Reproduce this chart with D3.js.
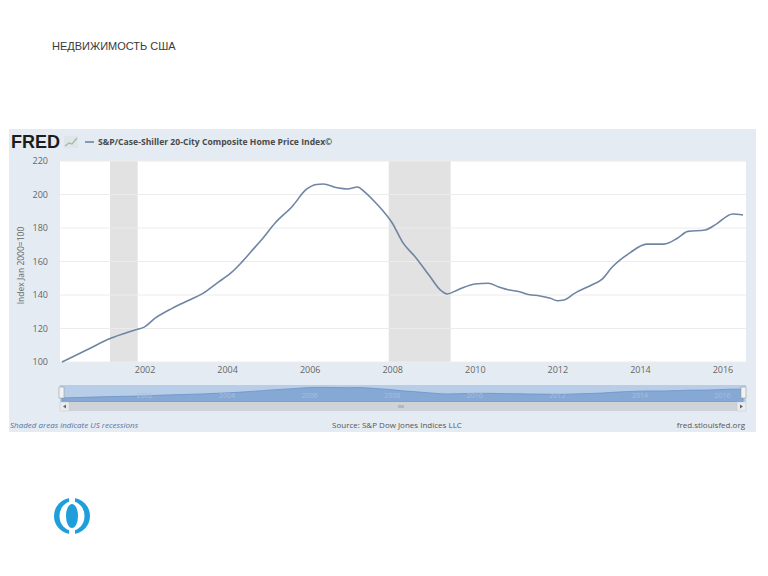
<!DOCTYPE html>
<html>
<head>
<meta charset="utf-8">
<script src="https://cdn.jsdelivr.net/npm/d3@7"></script>
<style>
  body { margin: 0; background: #fff; }
  svg text { font-family: "Open Sans", "DejaVu Sans", sans-serif; }
</style>
</head>
<body>
<div id="chart"></div>
<script>
/* global d3 */

// Data (month, index value)
const months = ['2000-01', '2000-08', '2001-03', '2001-10', '2002-01', '2002-04', '2002-09',
  '2003-02', '2003-06', '2003-10', '2004-02', '2004-05', '2004-08', '2004-11',
  '2005-03', '2005-08', '2005-12', '2006-03', '2006-05', '2006-09', '2006-12',
  '2007-03', '2007-05', '2007-08', '2007-10', '2008-01', '2008-04', '2008-08', '2008-12',
  '2009-03', '2009-05', '2009-08', '2010-01', '2010-05', '2010-08', '2010-11',
  '2011-02', '2011-04', '2011-08', '2011-11', '2012-01', '2012-03', '2012-06', '2012-11',
  '2013-02', '2013-05', '2013-10', '2014-03', '2014-08', '2014-12',
  '2015-03', '2015-08', '2015-11', '2016-04', '2016-07']
const values = [100, 107, 114, 119, 121, 126, 132,
  137, 141, 147, 153, 159, 166, 173,
  183, 193, 203, 206, 206.3, 204, 203.3,
  204.5, 201.5, 195.5, 191, 183, 171.6, 162, 151,
  143, 140.6, 143, 146.6, 147, 144.8, 143,
  142, 140.6, 139.4, 138, 136.6, 137, 141, 146,
  149.5, 156.7, 165, 170.4, 170.4, 174,
  178, 178.8, 182, 188.4, 187.8]

const recessionStart = ['2001-03', '2007-12']
const recessionEnd = ['2001-11', '2009-06']

const yTicks = [100, 120, 140, 160, 180, 200, 220]
const xTickYears = [2002, 2004, 2006, 2008, 2010, 2012, 2014, 2016]

const parse = d3.timeParse('%Y-%m')
const data = months.map((m, i) => ({ date: parse(m), value: values[i] }))

const width = 768,
  height = 576

let svg = d3.select('#chart')
  .append('svg')
  .attr('width', width)
  .attr('height', height)

// slide title
svg.append('text')
  .attr('x', 52)
  .attr('y', 50)
  .attr('font-size', 11)
  .attr('fill', '#3a3a3a')
  .style('font-family', '"Liberation Sans", Arial, sans-serif')
  .text('НЕДВИЖИМОСТЬ США')

// FRED panel
const panel = { left: 9, top: 129, right: 756, bottom: 432 }
svg.append('rect')
  .attr('x', panel.left)
  .attr('y', panel.top)
  .attr('width', panel.right - panel.left)
  .attr('height', panel.bottom - panel.top)
  .attr('fill', '#e5ebf2')

const plot = { left: 60, top: 161, right: 746, bottom: 362 }

const x = d3.scaleTime()
  .domain([parse('2000-01'), parse('2016-07')])
  .range([62, 743])

const y = d3.scaleLinear()
  .domain([100, 220])
  .range([plot.bottom, plot.top])

svg.append('rect')
  .attr('x', plot.left)
  .attr('y', plot.top)
  .attr('width', plot.right - plot.left)
  .attr('height', plot.bottom - plot.top)
  .attr('fill', '#fff')

// recessions
svg.selectAll('.rec')
  .data(recessionStart)
  .enter()
  .append('rect')
  .attr('class', 'rec')
  .attr('x', (d) => x(parse(d)))
  .attr('y', plot.top)
  .attr('width', (d, i) => x(parse(recessionEnd[i])) - x(parse(d)))
  .attr('height', plot.bottom - plot.top)
  .attr('fill', '#e2e2e2')

// grid lines
svg.selectAll('.grid')
  .data(yTicks)
  .enter()
  .append('line')
  .attr('x1', plot.left)
  .attr('x2', plot.right)
  .attr('y1', (d) => y(d))
  .attr('y2', (d) => y(d))
  .attr('stroke', '#ececec')
  .attr('stroke-width', 1)

// y axis
const yAxis = d3.axisLeft(y).tickValues(yTicks).tickSize(0).tickPadding(0)
let yAxisGroup = svg.append('g')
  .attr('transform', 'translate(48, 0)')
  .call(yAxis)
yAxisGroup.select('.domain').remove()
yAxisGroup.selectAll('text')
  .attr('font-size', 9)
  .attr('fill', '#666')
  .style('font-family', '"Open Sans", sans-serif')

svg.append('text')
  .attr('transform', `translate(24, ${(plot.top + plot.bottom) / 2 + 4}) rotate(-90)`)
  .attr('text-anchor', 'middle')
  .attr('font-size', 8.5)
  .attr('fill', '#666')
  .text('Index Jan 2000=100')

// x axis
const xAxis = d3.axisBottom(x)
  .tickValues(xTickYears.map((yr) => new Date(yr, 0, 1)))
  .tickFormat(d3.timeFormat('%Y'))
  .tickSize(0)
  .tickPadding(5)
let xAxisGroup = svg.append('g')
  .attr('transform', `translate(0, ${plot.bottom})`)
  .call(xAxis)
xAxisGroup.select('.domain').remove()
xAxisGroup.selectAll('text')
  .attr('font-size', 9)
  .attr('fill', '#666')

// the series
const line = d3.line()
  .x((d) => x(d.date))
  .y((d) => y(d.value))
  .curve(d3.curveMonotoneX)

svg.append('path')
  .datum(data)
  .attr('d', line)
  .attr('fill', 'none')
  .attr('stroke', '#6f85a3')
  .attr('stroke-width', 1.6)

// header
svg.append('text')
  .attr('x', 11)
  .attr('y', 148)
  .attr('font-size', 18)
  .attr('font-weight', 'bold')
  .attr('fill', '#1c1c1c')
  .style('font-family', '"Liberation Sans", Arial, sans-serif')
  .text('FRED')

// small chart icon next to the logo
const icon = svg.append('g').attr('transform', 'translate(64, 136)')
icon.append('rect').attr('width', 14).attr('height', 12).attr('fill', '#dfe6ea')
icon.append('path')
  .attr('d', 'M1,10 L5,7 L8,8 L13,2')
  .attr('fill', 'none')
  .attr('stroke', '#9cbf9a')
  .attr('stroke-width', 1.2)

svg.append('line')
  .attr('x1', 85).attr('x2', 94)
  .attr('y1', 142).attr('y2', 142)
  .attr('stroke', '#6f85a3')
  .attr('stroke-width', 1.6)
svg.append('text')
  .attr('x', 98)
  .attr('y', 145)
  .attr('font-size', 8.6)
  .attr('font-weight', 'bold')
  .attr('fill', '#4a4a4a')
  .text('S&P/Case-Shiller 20-City Composite Home Price Index©')

// navigator
const nav = { top: 385, bottom: 402 }
svg.append('rect')
  .attr('x', plot.left)
  .attr('y', nav.top)
  .attr('width', plot.right - plot.left)
  .attr('height', nav.bottom - nav.top)
  .attr('fill', '#b8cde8')

const yNav = d3.scaleLinear()
  .domain([100, 210])
  .range([398, 387])

const area = d3.area()
  .x((d) => x(d.date))
  .y0(nav.bottom)
  .y1((d) => yNav(d.value))
  .curve(d3.curveMonotoneX)

svg.append('path')
  .datum(data)
  .attr('d', area)
  .attr('fill', '#86a8d4')
  .attr('stroke', '#6f93c6')
  .attr('stroke-width', 0.8)

svg.append('g')
  .selectAll('text')
  .data(xTickYears)
  .enter()
  .append('text')
  .attr('x', (d) => x(new Date(d, 0, 1)))
  .attr('y', 398)
  .attr('text-anchor', 'middle')
  .attr('font-size', 7)
  .attr('fill', '#a9bfdc')
  .text((d) => d)

// navigator handles
;[plot.left - 1, 741].forEach((hx) => {
  svg.append('rect')
    .attr('x', hx).attr('y', 387)
    .attr('width', 5).attr('height', 11)
    .attr('fill', '#f2f2f2')
    .attr('stroke', '#999')
    .attr('stroke-width', 0.6)
})

// scrollbar
svg.append('rect')
  .attr('x', plot.left)
  .attr('y', nav.bottom)
  .attr('width', plot.right - plot.left)
  .attr('height', 9)
  .attr('fill', '#cfd3d9')
;[plot.left, plot.right - 9].forEach((bx, i) => {
  svg.append('rect')
    .attr('x', bx).attr('y', nav.bottom)
    .attr('width', 9).attr('height', 9)
    .attr('fill', '#e9ebee')
    .attr('stroke', '#c4c8ce')
    .attr('stroke-width', 0.5)
  svg.append('path')
    .attr('d', i === 0
      ? `M${bx + 6},${nav.bottom + 2.5} L${bx + 3},${nav.bottom + 4.5} L${bx + 6},${nav.bottom + 6.5}Z`
      : `M${bx + 3},${nav.bottom + 2.5} L${bx + 6},${nav.bottom + 4.5} L${bx + 3},${nav.bottom + 6.5}Z`)
    .attr('fill', '#666')
})
;[-2, 0, 2].forEach((off) => {
  svg.append('line')
    .attr('x1', 401 + off).attr('x2', 401 + off)
    .attr('y1', nav.bottom + 3).attr('y2', nav.bottom + 6)
    .attr('stroke', '#777')
    .attr('stroke-width', 0.6)
})

// footer
svg.append('text')
  .attr('x', 10)
  .attr('y', 428)
  .attr('font-size', 8)
  .attr('font-style', 'italic')
  .attr('fill', '#4f74a8')
  .text('Shaded areas indicate US recessions')
svg.append('text')
  .attr('x', 397)
  .attr('y', 428)
  .attr('text-anchor', 'middle')
  .attr('font-size', 8)
  .attr('fill', '#555')
  .text('Source: S&P Dow Jones Indices LLC')
svg.append('text')
  .attr('x', 745)
  .attr('y', 428)
  .attr('text-anchor', 'end')
  .attr('font-size', 8)
  .attr('fill', '#555')
  .text('fred.stlouisfed.org')

// round logo at the bottom
const logo = svg.append('g').attr('transform', 'translate(72, 516)')
logo.append('circle').attr('r', 18).attr('fill', '#1e9fda')
logo.append('ellipse').attr('rx', 12.5).attr('ry', 14.5).attr('fill', '#fff')
logo.append('ellipse').attr('rx', 6).attr('ry', 12).attr('fill', '#1e9fda')
logo.append('rect').attr('x', -3).attr('y', -19).attr('width', 6).attr('height', 6).attr('fill', '#fff')
logo.append('rect').attr('x', -3).attr('y', 13).attr('width', 6).attr('height', 6).attr('fill', '#fff')
</script>
</body>
</html>
